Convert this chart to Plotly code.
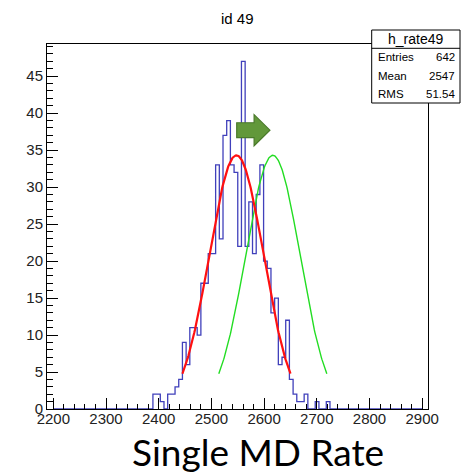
import numpy as np
import plotly.graph_objects as go

# ---------------- data ----------------
HIST_LO = 2200.0
BIN_W = 7.0
N_BINS = 100
FIRST_BIN_LO = 2389.0  # first bin of the non-empty region
counts = [2, 2, 1, 0, 2, 2, 3, 4, 9, 6, 11, 11, 10, 17, 17, 21, 21, 33, 23, 37,
          39, 33, 32, 22, 47, 22, 28, 21, 29, 33, 20, 19, 13, 15, 6, 7, 12, 4, 2, 1,
          1, 2, 0, 0, 1, 0, 0, 1]

fit_const = 34.3
fit_mean = 2547.5
fit_sigma = 51.6
fit_lo, fit_hi = 2445.0, 2650.0
shift = 69.0  # shifted (green) curve

x_tick_vals = [2200, 2300, 2400, 2500, 2600, 2700, 2800, 2900]
y_tick_vals = [0, 5, 10, 15, 20, 25, 30, 35, 40, 45]
title_text = "id 49"
stats_name = "h_rate49"
stats_rows = [("Entries", "642"), ("Mean", "2547"), ("RMS", "51.54")]
bottom_text = "Single MD Rate"

# ---------------- layout geometry (pixels) ----------------
W, H = 467, 473
FL, FR, FT, FB = 47, 428, 44, 409
X_RANGE = [2188, 2911]
Y_RANGE = [0, 49.35]


def px(x):
    return (x - FL) / (FR - FL)


def py(y):
    return (FB - y) / (FB - FT)


# full histogram arrays
full = np.zeros(N_BINS)
i0 = int(round((FIRST_BIN_LO - HIST_LO) / BIN_W))
full[i0:i0 + len(counts)] = counts
edges = HIST_LO + BIN_W * np.arange(N_BINS + 1)
ys = np.append(full, full[-1])

fig = go.Figure()
fig.add_trace(go.Scatter(x=edges, y=ys, mode="lines", line_shape="hv",
                         line=dict(color="#4040bb", width=1.3), hoverinfo="skip"))

xf = np.linspace(fit_lo, fit_hi, 200)
yf = fit_const * np.exp(-0.5 * ((xf - fit_mean) / fit_sigma) ** 2)
fig.add_trace(go.Scatter(x=xf + shift, y=yf, mode="lines",
                         line=dict(color="#22dd22", width=1.4), hoverinfo="skip"))
fig.add_trace(go.Scatter(x=xf, y=yf, mode="lines",
                         line=dict(color="#ff1010", width=2.2), hoverinfo="skip"))

# block arrow (annotation)
ax0, ax1, ax2 = 2548, 2581, 2611
ay_c, ay_b, ay_h = 37.7, 1.0, 2.1
path = (f"M {ax0},{ay_c+ay_b} L {ax1},{ay_c+ay_b} L {ax1},{ay_c+ay_h} L {ax2},{ay_c} "
        f"L {ax1},{ay_c-ay_h} L {ax1},{ay_c-ay_b} L {ax0},{ay_c-ay_b} Z")
fig.add_shape(type="path", path=path, xref="x", yref="y",
              fillcolor="#62983a", line=dict(color="#4a7a2a", width=1.2))

# stats box
bx0, bx1, by0, bsep, by1 = 371.7, 460, 30, 48.3, 103
fig.add_shape(type="rect", xref="paper", yref="paper", x0=px(bx0), x1=px(bx1),
              y0=py(by1), y1=py(by0), fillcolor="white", line=dict(color="black", width=1))
fig.add_shape(type="line", xref="paper", yref="paper", x0=px(bx0), x1=px(bx1),
              y0=py(bsep), y1=py(bsep), line=dict(color="black", width=1))
font_main = "Liberation Sans, Arial, Helvetica, sans-serif"
fig.add_annotation(x=px((bx0 + bx1) / 2), y=py((by0 + bsep) / 2), xref="paper", yref="paper",
                   text=stats_name, showarrow=False, font=dict(family=font_main, size=14, color="black"),
                   xanchor="center", yanchor="middle")
row_h = (by1 - bsep) / len(stats_rows)
for k, (lab, val) in enumerate(stats_rows):
    yc = bsep + row_h * (k + 0.5)
    fig.add_annotation(x=px(bx0 + 4), y=py(yc), xref="paper", yref="paper", text=lab,
                       showarrow=False, font=dict(family=font_main, size=11.5, color="black"),
                       xanchor="left", yanchor="middle")
    fig.add_annotation(x=px(bx1 - 3), y=py(yc), xref="paper", yref="paper", text=val,
                       showarrow=False, font=dict(family=font_main, size=11.5, color="black"),
                       xanchor="right", yanchor="middle")

# title
fig.add_annotation(x=px(237.5), y=py(18), xref="paper", yref="paper", text=title_text,
                   showarrow=False, font=dict(family=font_main, size=15, color="black"),
                   xanchor="center", yanchor="middle")
# bottom caption
fig.add_annotation(x=px(258), y=py(451), xref="paper", yref="paper", text=bottom_text,
                   showarrow=False, font=dict(family="Lato, Open Sans, sans-serif", size=37, color="black"),
                   xanchor="center", yanchor="middle")

axis_common = dict(showgrid=False, zeroline=False, showline=True, mirror=True,
                   linecolor="black", linewidth=1, ticks="inside", tickcolor="black",
                   tickfont=dict(family=font_main, size=15, color="#222222"))
fig.update_xaxes(range=X_RANGE, tickvals=x_tick_vals, ticklen=11, ticklabelstandoff=-4,
                 minor=dict(dtick=20, tick0=2200, ticks="inside", ticklen=5.5, tickcolor="black"),
                 **axis_common)
fig.update_yaxes(range=Y_RANGE, tickvals=y_tick_vals, ticklen=11,
                 minor=dict(dtick=1, tick0=0, ticks="inside", ticklen=5.5, tickcolor="black"),
                 **axis_common)

fig.update_layout(width=W, height=H, showlegend=False,
                  margin=dict(l=FL, r=W - FR, t=FT, b=H - FB, pad=0),
                  paper_bgcolor="white", plot_bgcolor="white")
fig.write_html("out.html", config={"displayModeBar": False},
               post_script="document.body.style.margin='0';document.body.style.padding='0';")
